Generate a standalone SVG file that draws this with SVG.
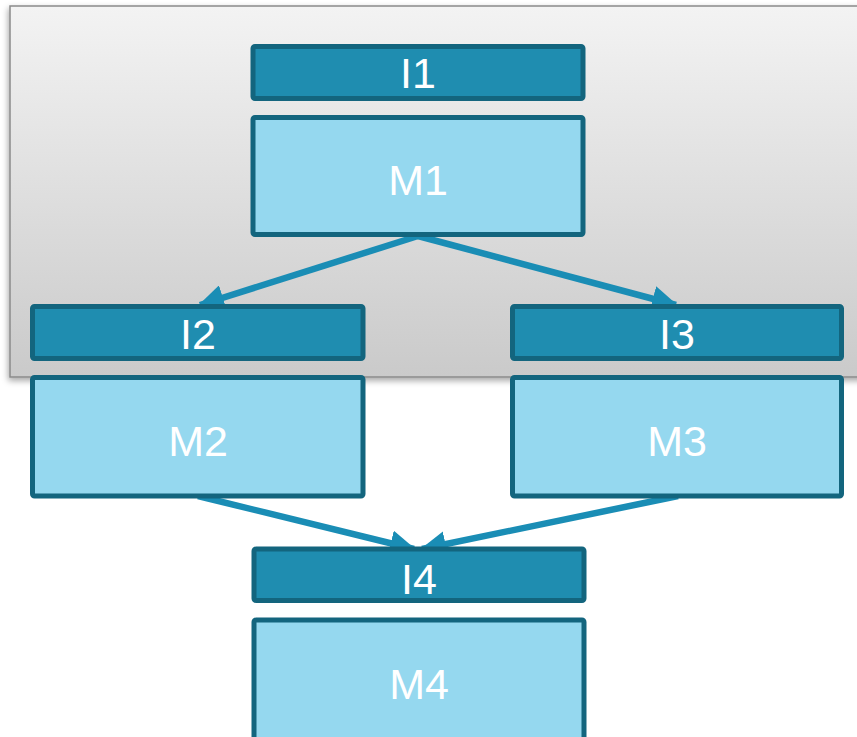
<svg xmlns="http://www.w3.org/2000/svg" width="857" height="737" viewBox="0 0 857 737">
  <style>
    .iface { fill: #1f8db0; stroke: #13657e; stroke-width: 5; }
    .mod { fill: #95d8ef; stroke: #13657e; stroke-width: 5; }
    .lbl { fill: #ffffff; font-family: "Liberation Sans", Arial, sans-serif; font-size: 43px; text-anchor: middle; }
    .edge { stroke: #1a8db5; stroke-width: 6.5; fill: none; }
  </style>
  <defs>
    <linearGradient id="panelGrad" x1="0" y1="0" x2="0" y2="1">
      <stop offset="0" stop-color="#f3f3f3"/>
      <stop offset="1" stop-color="#cacaca"/>
    </linearGradient>
    <filter id="shadow" x="-5%" y="-5%" width="110%" height="115%">
      <feDropShadow dx="-1" dy="3" stdDeviation="3" flood-color="#000" flood-opacity="0.35"/>
    </filter>
    <marker id="arrow" markerUnits="userSpaceOnUse" markerWidth="28" markerHeight="26" refX="24" refY="13" orient="auto">
      <path d="M0,0 L26,13 L0,26 Z" fill="#1a8db5"/>
    </marker>
  </defs>

  <!-- background panel -->
  <rect x="10" y="6" width="870" height="371" fill="url(#panelGrad)" stroke="#8a8a8a" stroke-width="1.5" filter="url(#shadow)"/>

  <g id="connectors">
    <line class="edge" x1="418" y1="236" x2="200" y2="305" marker-end="url(#arrow)"/>
    <line class="edge" x1="418" y1="236" x2="676" y2="305" marker-end="url(#arrow)"/>
    <line class="edge" x1="198" y1="496" x2="414" y2="549" marker-end="url(#arrow)"/>
    <line class="edge" x1="678" y1="496" x2="422" y2="549" marker-end="url(#arrow)"/>
  </g>

  <g id="I1">
    <rect class="iface" x="253" y="46.5" width="330" height="52" rx="2"/>
    <text class="lbl" x="418" y="88">I1</text>
  </g>
  <g id="M1">
    <rect class="mod" x="253" y="117.5" width="330" height="117" rx="2"/>
    <text class="lbl" x="418" y="195">M1</text>
  </g>
  <g id="I2">
    <rect class="iface" x="32.5" y="306.5" width="330.5" height="52" rx="2"/>
    <text class="lbl" x="198" y="349">I2</text>
  </g>
  <g id="M2">
    <rect class="mod" x="32.5" y="377.5" width="330.5" height="118.5" rx="2"/>
    <text class="lbl" x="198" y="456">M2</text>
  </g>
  <g id="I3">
    <rect class="iface" x="512.5" y="306.5" width="329" height="52" rx="2"/>
    <text class="lbl" x="677" y="349">I3</text>
  </g>
  <g id="M3">
    <rect class="mod" x="512.5" y="377.5" width="329" height="118.5" rx="2"/>
    <text class="lbl" x="677" y="456">M3</text>
  </g>
  <g id="I4">
    <rect class="iface" x="254" y="549" width="330" height="51.5" rx="2"/>
    <text class="lbl" x="419" y="594">I4</text>
  </g>
  <g id="M4">
    <rect class="mod" x="254" y="620" width="330" height="130" rx="2"/>
    <text class="lbl" x="419" y="699">M4</text>
  </g>
</svg>
